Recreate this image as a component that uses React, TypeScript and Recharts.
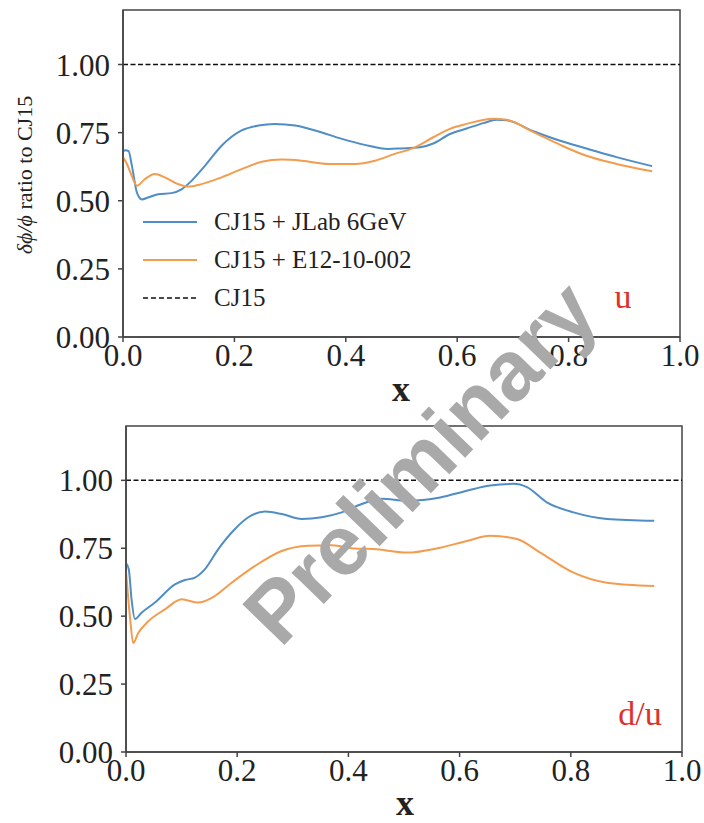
import React from "react";
import { LineChart, Line, XAxis, YAxis, ReferenceLine, ReferenceArea, Legend } from "recharts";

// ---- x ticks / y ticks ----
const xTicks = [0, 0.2, 0.4, 0.6, 0.8, 1.0];
const yTicks = [0, 0.25, 0.5, 0.75, 1.0];
const CJ15_RATIO = 1.0;

// ---- top panel (u) ----
const uJLabX = [0.0, 0.004, 0.01, 0.016, 0.025, 0.034, 0.045, 0.063, 0.087, 0.105, 0.123, 0.147, 0.177, 0.213, 0.243, 0.273, 0.309, 0.345, 0.393, 0.434, 0.476, 0.5, 0.533, 0.557, 0.587, 0.617, 0.647, 0.671, 0.689, 0.737, 0.785, 0.832, 0.886, 0.95];
const uJLabY = [0.68, 0.685, 0.682, 0.628, 0.53, 0.505, 0.512, 0.524, 0.528, 0.542, 0.573, 0.628, 0.702, 0.758, 0.776, 0.782, 0.776, 0.758, 0.727, 0.705, 0.69, 0.692, 0.696, 0.71, 0.745, 0.765, 0.785, 0.797, 0.795, 0.755, 0.72, 0.692, 0.66, 0.627];
const uE12X = [0.0, 0.007, 0.016, 0.025, 0.039, 0.057, 0.075, 0.099, 0.117, 0.141, 0.177, 0.213, 0.249, 0.285, 0.321, 0.369, 0.417, 0.452, 0.488, 0.521, 0.557, 0.587, 0.617, 0.665, 0.689, 0.737, 0.785, 0.832, 0.886, 0.95];
const uE12Y = [0.66, 0.635, 0.59, 0.555, 0.579, 0.598, 0.586, 0.561, 0.552, 0.561, 0.586, 0.616, 0.643, 0.651, 0.647, 0.635, 0.635, 0.647, 0.672, 0.693, 0.733, 0.764, 0.782, 0.801, 0.797, 0.752, 0.705, 0.665, 0.635, 0.608];

// ---- bottom panel (d/u) ----
const duJLabX = [0.0, 0.005, 0.01, 0.016, 0.028, 0.052, 0.088, 0.106, 0.124, 0.142, 0.166, 0.196, 0.22, 0.25, 0.28, 0.316, 0.352, 0.388, 0.424, 0.46, 0.505, 0.565, 0.613, 0.655, 0.697, 0.721, 0.757, 0.805, 0.865, 0.95];
const duJLabY = [0.695, 0.673, 0.562, 0.49, 0.513, 0.55, 0.617, 0.633, 0.642, 0.673, 0.747, 0.821, 0.864, 0.885, 0.876, 0.858, 0.864, 0.882, 0.913, 0.932, 0.925, 0.937, 0.962, 0.981, 0.987, 0.975, 0.919, 0.882, 0.858, 0.851];
const duE12X = [0.0, 0.007, 0.013, 0.022, 0.04, 0.07, 0.1, 0.13, 0.154, 0.19, 0.232, 0.28, 0.328, 0.37, 0.412, 0.445, 0.505, 0.565, 0.613, 0.655, 0.703, 0.745, 0.805, 0.865, 0.95];
const duE12Y = [0.666, 0.5, 0.401, 0.438, 0.481, 0.525, 0.562, 0.55, 0.567, 0.623, 0.685, 0.74, 0.759, 0.761, 0.749, 0.747, 0.734, 0.752, 0.777, 0.796, 0.784, 0.734, 0.66, 0.623, 0.611];

const seriesNames = ["CJ15 + JLab 6GeV", "CJ15 + E12-10-002", "CJ15"];

const BLUE = "#4f8dc6";
const ORANGE = "#f39c4e";
const AXIS = "#444";
const SERIF = "'Liberation Serif', 'Times New Roman', serif";

const toPts = (xs: number[], ys: number[]) => xs.map((x, i) => ({ x, v: ys[i] }));

const tickStyle = { fontFamily: SERIF, fontSize: 31, fill: "#222" };

const LegendBox = () => (
  <div style={{ fontFamily: SERIF, fontSize: 25, color: "#222" }}>
    {[
      { c: BLUE, d: undefined },
      { c: ORANGE, d: undefined },
      { c: "#111", d: "5 3" },
    ].map((r, i) => (
      <div key={i} style={{ display: "flex", alignItems: "center", height: 38 }}>
        <svg width={74} height={38} style={{ display: "block" }}>
          <line x1={3} x2={57} y1={19} y2={19} stroke={r.c} strokeWidth={i === 2 ? 1.5 : 2} strokeDasharray={r.d} />
        </svg>
        <span style={{ whiteSpace: "nowrap" }}>{seriesNames[i]}</span>
      </div>
    ))}
  </div>
);

function Panel(props: {
  top: number;
  height: number;
  margin: { top: number; right: number; bottom: number; left: number };
  blue: { x: number; v: number }[];
  orange: { x: number; v: number }[];
  legend?: boolean;
}) {
  const { top, height, margin, blue, orange, legend } = props;
  return (
    <div style={{ position: "absolute", left: 0, top }}>
      <LineChart width={704} height={height} margin={margin}>
        <XAxis
          dataKey="x"
          type="number"
          domain={[0, 1]}
          ticks={xTicks}
          interval={0}
          tickFormatter={(t: number) => t.toFixed(1)}
          tick={tickStyle}
          tickSize={5}
          tickMargin={2}
          height={60}
          stroke={AXIS}
          strokeWidth={1.5}
          allowDataOverflow
        />
        <YAxis
          dataKey="v"
          type="number"
          domain={[0, 1.2]}
          ticks={yTicks}
          interval={0}
          tickFormatter={(t: number) => t.toFixed(2)}
          tick={tickStyle}
          tickSize={5}
          tickMargin={8}
          width={60}
          stroke={AXIS}
          strokeWidth={1.5}
          allowDataOverflow
        />
        <ReferenceArea x1={0} x2={1} y1={0} y2={1.2} fill="none" stroke={AXIS} strokeWidth={1.5} ifOverflow="visible" />
        <ReferenceLine y={CJ15_RATIO} stroke="#111" strokeWidth={1.5} strokeDasharray="5 2.5" />
        <Line data={blue} dataKey="v" type="monotone" stroke={BLUE} strokeWidth={2} dot={false} isAnimationActive={false} name={seriesNames[0]} />
        <Line data={orange} dataKey="v" type="monotone" stroke={ORANGE} strokeWidth={2} dot={false} isAnimationActive={false} name={seriesNames[1]} />
        {legend ? (
          <Legend
            layout="vertical"
            align="center"
            verticalAlign="middle"
            content={() => <LegendBox />}
            wrapperStyle={{ position: "absolute", left: 140, top: 203, width: 320, height: 114 }}
          />
        ) : null}
      </LineChart>
    </div>
  );
}

export default function App() {
  return (
    <div style={{ position: "absolute", left: 0, top: 0, width: 704, height: 823, background: "#fff", overflow: "hidden" }}>
      <Panel
        top={0}
        height={410}
        margin={{ top: 10, right: 24, bottom: 13, left: 63 }}
        blue={toPts(uJLabX, uJLabY)}
        orange={toPts(uE12X, uE12Y)}
        legend
      />
      <Panel
        top={410}
        height={413}
        margin={{ top: 16, right: 22, bottom: 11, left: 66 }}
        blue={toPts(duJLabX, duJLabY)}
        orange={toPts(duE12X, duE12Y)}
      />
      <svg width={704} height={823} style={{ position: "absolute", left: 0, top: 0, pointerEvents: "none" }}>
        <text transform="translate(32 175) rotate(-90)" textAnchor="middle" fontFamily={SERIF} fontSize={22} fill="#222">
          <tspan fontStyle="italic">δϕ/ϕ</tspan>
          <tspan> ratio to CJ15</tspan>
        </text>
        <text x={401} y={401} textAnchor="middle" fontFamily={SERIF} fontWeight="bold" fontSize={36} fill="#222">x</text>
        <text x={405} y={815} textAnchor="middle" fontFamily={SERIF} fontWeight="bold" fontSize={36} fill="#222">x</text>
        <text x={623} y={308} textAnchor="middle" fontFamily={SERIF} fontSize={34} fill="#e0302a">u</text>
        <text x={640} y={725} textAnchor="middle" fontFamily={SERIF} fontSize={34} fill="#e0302a">d/u</text>
        <text
          transform="translate(420 462) rotate(-46)"
          textAnchor="middle"
          dominantBaseline="central"
          fontFamily="'Liberation Sans', Arial, sans-serif"
          fontWeight="bold"
          fontSize={85}
          fill="#a9a9a9"
        >
          Preliminary
        </text>
      </svg>
    </div>
  );
}
